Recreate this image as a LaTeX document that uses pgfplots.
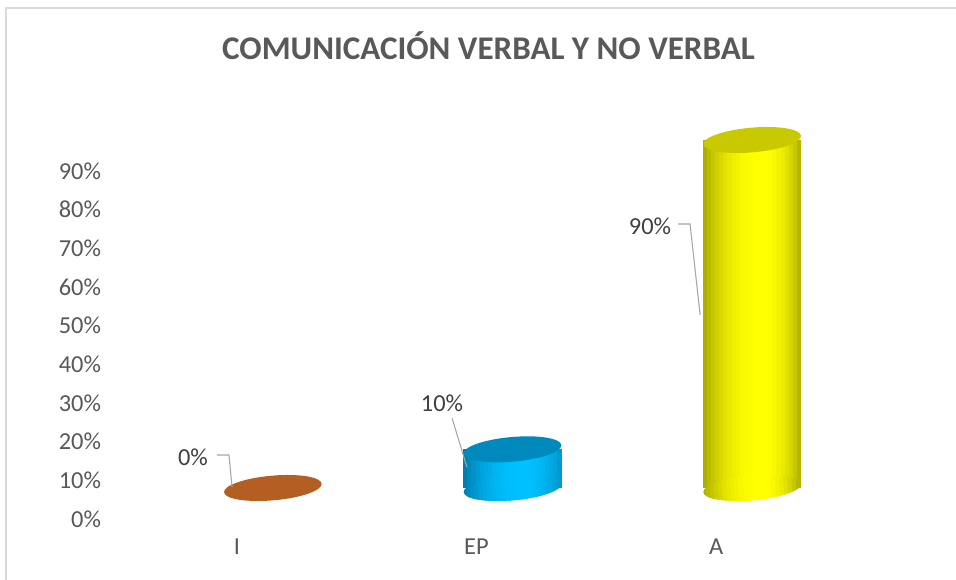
\documentclass[border=0pt]{standalone}
\usepackage{pgfplots}
\pgfplotsset{compat=1.18}
\usepackage{fontspec}
\setmainfont{Carlito}
\usetikzlibrary{shapes.geometric,calc}
\definecolor{txt}{HTML}{595959}
\definecolor{lbl}{HTML}{404040}
\definecolor{brown}{HTML}{B45E23}
\definecolor{bluedark}{HTML}{0076A6}
\definecolor{bluemid}{HTML}{00C0FF}
\definecolor{blueright}{HTML}{008EC2}
\definecolor{bluecap}{HTML}{0089BD}
\definecolor{yeldark}{HTML}{A3A300}
\definecolor{yelmid}{HTML}{FFFF00}
\definecolor{yelright}{HTML}{9E9E00}
\definecolor{yelcap}{HTML}{C9C900}
\definecolor{frame}{HTML}{D9D9D9}
\definecolor{leader}{HTML}{A6A6A6}
% colour of strip #1 (of 24) across a cylinder: sets \cyc
\newcommand\cylshade[4]{%
  \pgfmathsetmacro\cyt{(#1+0.5)/24}%
  \pgfmathtruncatemacro\cyl{\cyt<0.6}%
  \ifnum\cyl=1
    \pgfmathtruncatemacro\cyd{95*((0.6-\cyt)/0.6)^2.2}\edef\cyc{#2!\cyd!#3}%
  \else
    \pgfmathtruncatemacro\cyd{85*((\cyt-0.6)/0.4)^2.2}\edef\cyc{#4!\cyd!#3}%
  \fi}
% cylinder side: one bar per strip, all at the same data point
\newcommand\cylbody[5]{%
  \foreach \k in {0,...,23}{%
    \cylshade{\k}{#3}{#4}{#5}%
    \pgfmathsetmacro\cys{(\k-11.5)*3.0625}%
    \edef\temp{\noexpand\addplot[ybar, bar width=3.4pt, bar shift=\cys pt, draw=none, fill=\cyc] coordinates {(#1,#2)};}%
    \temp}}
\tikzset{
  pp/.style n args={3}{path picture={
    \foreach \k in {0,...,23}{%
      \cylshade{\k}{#1}{#2}{#3}%
      \fill[\cyc] ($(path picture bounding box.south west)!{\k/24}!(path picture bounding box.south east)$)
        rectangle ($(path picture bounding box.north west)!{(\k+1.2)/24}!(path picture bounding box.north east)$);}
  }},
}
\begin{document}
\begin{tikzpicture}
\useasboundingbox (-87.75pt,-45.75pt) rectangle (629.25pt,389.25pt);
\fill[white] (-87.75pt,-45.75pt) rectangle (629.25pt,389.25pt);
\draw[frame,line width=1.1pt] (-83.25pt,-45.75pt) -- (-83.25pt,383.25pt) -- (629.25pt,383.25pt);
\node[anchor=base,font=\fontsize{24.8}{30}\selectfont\bfseries,text=txt] at (278.6pt,344.25pt) {COMUNICACIÓN VERBAL Y NO VERBAL};
% bars (3D depth offset)
\begin{axis}[
  at={(27pt,23.25pt)}, anchor=south west,
  scale only axis, width=539.25pt, height=261pt,
  xmin=-0.5, xmax=2.5, ymin=0, ymax=90,
  hide axis, clip=false,
  cap/.style={draw=none, nodes near coords={},
    every node near coord/.style={anchor=center, ellipse, inner sep=0pt,
      minimum width=73.5pt, minimum height=18.5pt, rotate=5, #1}},
]
% I : 0%
\addplot[cap={fill=brown}] coordinates {(0,0)};
% EP : 10%
\addplot[cap={pp={bluedark}{bluemid}{blueright}}] coordinates {(1,0)};
\cylbody{1}{10}{bluedark}{bluemid}{blueright}
\addplot[cap={fill=bluecap}] coordinates {(1,10)};
% A : 90%
\addplot[cap={pp={yeldark}{yelmid}{yelright}}] coordinates {(2,0)};
\cylbody{2}{90}{yeldark}{yelmid}{yelright}
\addplot[cap={fill=yelcap}] coordinates {(2,90)};
\end{axis}
% labels axis
\begin{axis}[
  at={(0pt,0pt)}, anchor=south west,
  scale only axis, width=539.25pt, height=261pt,
  xmin=-0.5, xmax=2.5, ymin=0, ymax=90,
  axis line style={draw=none}, tick style={draw=none},
  xtick={0,1,2}, xticklabels={I,EP,A},
  ytick={0,10,20,30,40,50,60,70,80,90},
  yticklabels={0\%,10\%,20\%,30\%,40\%,50\%,60\%,70\%,80\%,90\%},
  tick label style={font=\fontsize{18.3}{22}\selectfont, text=txt},
  yticklabel style={xshift=-8.5pt},
  xticklabel style={yshift=-11.5pt},
  clip=false,
]
\draw[leader, line width=0.8pt] (axis cs:-0.083,16.55) -- (axis cs:-0.033,16.55) -- (axis cs:-0.02,8.3);
\draw[leader, line width=0.8pt] (axis cs:0.898,26.1) -- (axis cs:0.960,13.4);
\draw[leader, line width=0.8pt] (axis cs:1.841,76.3) -- (axis cs:1.891,76.3) -- (axis cs:1.933,52.8);
\node[text=lbl, font=\fontsize{18.3}{22}\selectfont] at (axis cs:-0.183,16.0) {0\%};
\node[text=lbl, font=\fontsize{18.3}{22}\selectfont] at (axis cs:0.856,30.0) {10\%};
\node[text=lbl, font=\fontsize{18.3}{22}\selectfont] at (axis cs:1.724,75.8) {90\%};
\end{axis}
\end{tikzpicture}
\end{document}
